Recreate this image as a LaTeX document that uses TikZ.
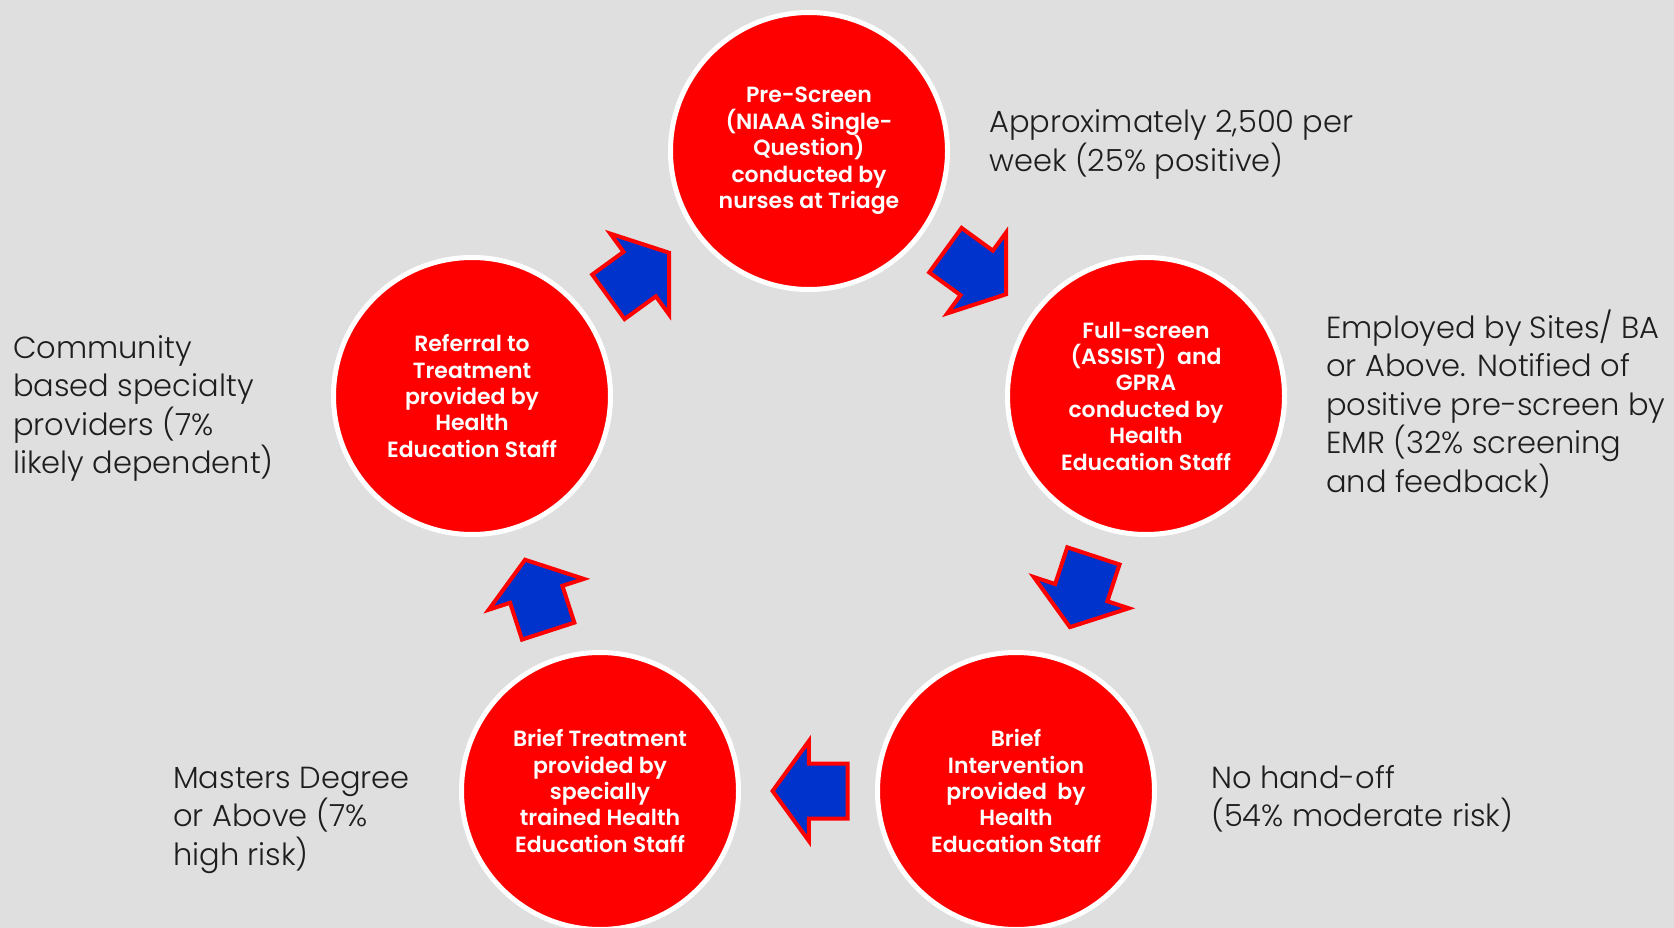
\documentclass[tikz,border=0pt]{standalone}
\usepackage{fontspec}
\setmainfont{Poppins}
\newfontfamily\stagefont{Poppins SemiBold}
\newfontfamily\notefont{Poppins Light}
\usetikzlibrary{shapes.arrows}

\definecolor{slidebg}{RGB}{223,223,223}
\definecolor{stagered}{RGB}{255,0,0}
\definecolor{flowblue}{RGB}{0,51,204}
\definecolor{notegray}{RGB}{30,30,30}

\tikzset{
  stage/.style={circle, fill=stagered, draw=white, line width=5pt, minimum size=277pt,
    inner sep=0pt, text=white, align=center, font=\fontsize{22}{26.4}\selectfont\stagefont},
  note/.style={anchor=base west, align=left, inner sep=0pt, text=notegray,
    font=\fontsize{30.5}{38.5}\selectfont\notefont},
  flowarrow/.style={single arrow, fill=flowblue, draw=stagered, line width=4pt,
    minimum height=75pt, inner xsep=0pt, inner ysep=25.5pt, single arrow head extend=22.5pt,
    single arrow tip angle=108, anchor=tail, pos=0.4, sloped, allow upside down}
}

\begin{document}
\begin{tikzpicture}[x=1pt, y=-1pt]
  \fill[slidebg] (0,0) rectangle (1674,928);
  \useasboundingbox (0,0) rectangle (1674,928);
  % stages
  \node[stage] (pre) at (809,151) {Pre-Screen\\(NIAAA Single-\\Question)\\conducted by\\nurses at Triage};
  \node[stage] (full) at (1146,396) {Full-screen\\(ASSIST)\ \ and\\GPRA\\conducted by\\Health\\Education Staff};
  \node[stage] (brief) at (1016,791) {Brief\\Intervention\\provided\ \ by\\Health\\Education Staff};
  \node[stage] (treat) at (600,791) {Brief Treatment\\provided by\\specially\\trained Health\\Education Staff};
  \node[stage] (refer) at (472,396) {Referral to\\Treatment\\provided by\\Health\\Education Staff};
  % arrows between the stages
  \path (refer.center) -- node[flowarrow] (a1) {} (pre.center);
  \path (pre.center) -- node[flowarrow] (a2) {} (full.center);
  \path (full.center) -- node[flowarrow] (a3) {} (brief.center);
  \path (brief.center) -- node[flowarrow] (a4) {} (treat.center);
  \path (treat.center) -- node[flowarrow] (a5) {} (refer.center);
  % notes (anchored on the baseline of the last line)
  \node[note] (prenote) at (989,171.5) {Approximately 2,500 per\\week (25\% positive)};
  \node[note] (fullnote) at (1326,492) {Employed by Sites/ BA\\or Above. Notified of\\positive pre-screen by\\EMR (32\% screening\\and feedback)};
  \node[note] (briefnote) at (1211,826.5) {No hand-off\\(54\% moderate risk)};
  \node[note] (treatnote) at (173,865) {Masters Degree\\or Above (7\%\\high risk)};
  \node[note] (refernote) at (13,473.5) {Community\\based specialty\\providers (7\%\\likely dependent)};
\end{tikzpicture}
\end{document}
